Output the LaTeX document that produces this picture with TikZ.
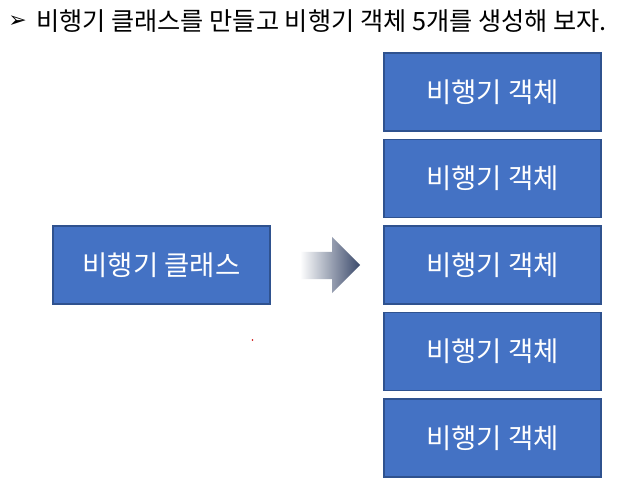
\documentclass[tikz,border=0pt]{standalone}
\usepackage{fontspec}
\setmainfont{Noto Sans CJK KR}
\newfontfamily\dejavu{DejaVu Sans}
\usetikzlibrary{shadings}
\definecolor{boxblue}{HTML}{4472C4}
\definecolor{boxedge}{HTML}{2F528F}
\definecolor{arrowdark}{HTML}{3B4A6B}
\tikzset{
  objbox/.style={draw=boxedge, line width=1.2pt, fill=boxblue, text=white,
    minimum width=217pt, minimum height=78pt, inner sep=0pt,
    font=\fontsize{27.5}{32}\selectfont},
  titletext/.style={anchor=west, inner sep=0pt, font=\fontsize{25.2}{30}\selectfont}
}
\begin{document}
\begin{tikzpicture}[x=1pt,y=-1pt]
\useasboundingbox (0,0) rectangle (632,481);
\fill[white] (0,0) rectangle (632,481);
\node[inner sep=0pt, font=\dejavu\fontsize{22}{24}\selectfont] (bullet) at (17.5,21.5) {➢};
\node[titletext] (title) at (36,21) {비행기 클래스를 만들고 비행기 객체 5개를 생성해 보자.};
\node[objbox] (cls) at (161.5,265) {비행기 클래스};
\node[objbox] (o1) at (492.5,92) {비행기 객체};
\node[objbox] (o2) at (492.5,178.5) {비행기 객체};
\node[objbox] (o3) at (492.5,265) {비행기 객체};
\node[objbox] (o4) at (492.5,351.5) {비행기 객체};
\node[objbox] (o5) at (492.5,438) {비행기 객체};
\shade[left color=white, right color=arrowdark]
  (300,252) -- (332,252) -- (332,237) -- (360,265) -- (332,293) -- (332,279) -- (300,279) -- cycle;
\coordinate (dot) at (252.5,340);
\fill[red!80!black] (dot) circle (0.9pt);
\end{tikzpicture}
\end{document}
